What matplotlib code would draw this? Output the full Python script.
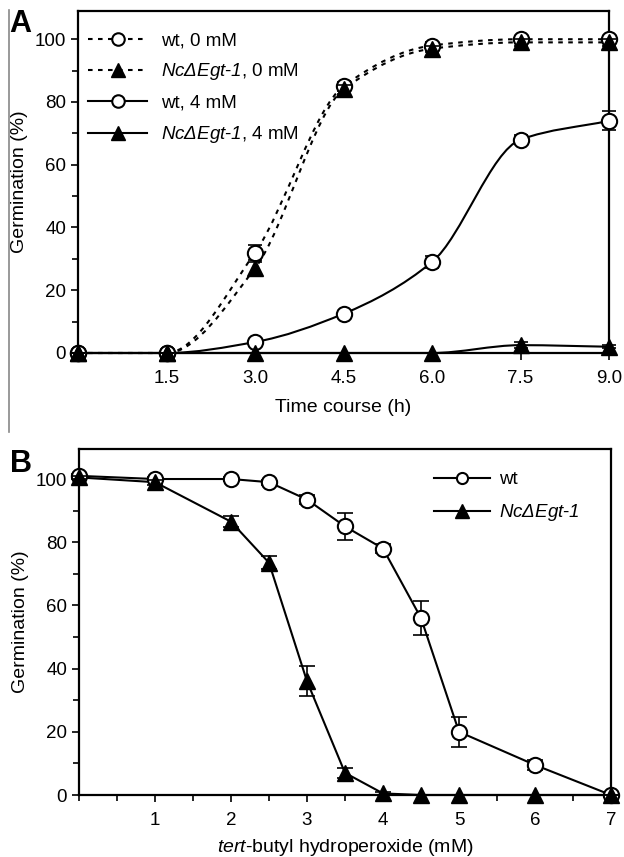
import numpy as np
import matplotlib
matplotlib.use("Agg")
import matplotlib.pyplot as plt
from matplotlib.path import Path
from matplotlib.patches import PathPatch
from matplotlib.lines import Line2D
from matplotlib.ticker import MultipleLocator, FixedLocator

plt.rcParams['font.family'] = ['Liberation Sans', 'DejaVu Sans']
plt.rcParams['mathtext.fontset'] = 'custom'
plt.rcParams['mathtext.rm'] = 'Liberation Sans'
plt.rcParams['mathtext.it'] = 'Liberation Sans:italic'
plt.rcParams['mathtext.sf'] = 'Liberation Sans:italic'

# ---------------- Data: panel A ----------------
time_h = [0, 1.5, 3.0, 4.5, 6.0, 7.5, 9.0]
wt_0mM = [0, 0, 32, 85, 98, 100, 100]
wt_0mM_err = [0, 0, 2.5, 1.5, 1.0, 1.0, 1.0]
nc_0mM = [0, 0, 27, 84, 97, 99, 99]
nc_0mM_err = [0, 0, 2.0, 1.5, 1.0, 1.0, 1.0]
wt_4mM = [0, 0, 3.5, 12.5, 29, 68, 74]
wt_4mM_err = [0, 0, 0.5, 0.5, 2.0, 1.5, 3.0]
nc_4mM = [0, 0, 0, 0, 0, 2.5, 2]
nc_4mM_err = [0, 0, 0, 0, 0, 1.0, 0.5]
time_ticks = [1.5, 3.0, 4.5, 6.0, 7.5, 9.0]
time_ticklabels = ["1.5", "3.0", "4.5", "6.0", "7.5", "9.0"]
labels_A = ["wt, 0 mM", r"$\mathsf{NcΔEgt}$-$\mathsf{1}$, 0 mM",
            "wt, 4 mM", r"$\mathsf{NcΔEgt}$-$\mathsf{1}$, 4 mM"]

# ---------------- Data: panel B ----------------
tbh_mM = [0, 1, 2, 2.5, 3, 3.5, 4, 4.5, 5, 6, 7]
wt_B = [101, 100, 100, 99, 93.5, 85, 78, 56, 20, 9.5, 0]
wt_B_err = [0.5, 0.5, 0.5, 0.8, 1.5, 4.3, 1.5, 5.5, 4.8, 1.5, 0.5]
nc_B = [100.5, 99, 86.5, 73.5, 36, 7, 0.5, 0, 0, 0, 0]
nc_B_err = [0.5, 0.8, 1.8, 2.0, 4.8, 1.5, 0.5, 0, 0, 0, 0]
dose_ticks = [1, 2, 3, 4, 5, 6, 7]
labels_B = ["wt", r"$\mathsf{NcΔEgt}$-$\mathsf{1}$"]

W, H = 624, 857
fig = plt.figure(figsize=(W / 100, H / 100), dpi=100)

LW = 1.5
MS = 11
FS = 13.5


def smooth_patch(x, y, **kw):
    """Monotone cubic curve through the data, drawn as matplotlib Bezier path."""
    x = np.asarray(x, float)
    y = np.asarray(y, float)
    n = len(x)
    h = np.diff(x)
    d = np.diff(y) / h
    m = np.zeros(n)
    m[0], m[-1] = d[0], d[-1]
    for k in range(1, n - 1):
        if d[k - 1] * d[k] <= 0:
            m[k] = 0
        else:
            w1 = 2 * h[k] + h[k - 1]
            w2 = h[k] + 2 * h[k - 1]
            m[k] = (w1 + w2) / (w1 / d[k - 1] + w2 / d[k])
    verts = [(x[0], y[0])]
    codes = [Path.MOVETO]
    for i in range(n - 1):
        verts += [(x[i] + h[i] / 3, y[i] + m[i] * h[i] / 3),
                  (x[i + 1] - h[i] / 3, y[i + 1] - m[i + 1] * h[i] / 3),
                  (x[i + 1], y[i + 1])]
        codes += [Path.CURVE4] * 3
    return PathPatch(Path(verts, codes), fill=False, **kw)


def style_axes(ax):
    for s in ax.spines.values():
        s.set_linewidth(1.6)
    ax.tick_params(which='both', direction='out', width=1.2, labelsize=FS)
    ax.tick_params(which='major', length=5)
    ax.tick_params(which='minor', length=4)
    ax.tick_params(axis='x', which='major', pad=7)


DASH = (0, (2.2, 2.6))

# ---------------- Panel A ----------------
axA = fig.add_axes([78 / W, 1 - 353 / H, (609 - 78) / W, (353 - 11) / H])
style_axes(axA)
axA.set_xlim(0, 9)
axA.set_ylim(0, 109)

series_A = [
    (wt_0mM, wt_0mM_err, DASH, 'o'),
    (nc_0mM, nc_0mM_err, DASH, '^'),
    (wt_4mM, wt_4mM_err, '-', 'o'),
    (nc_4mM, nc_4mM_err, '-', '^'),
]
for yv, ev, ls, mk in series_A:
    axA.add_patch(smooth_patch(time_h, yv, lw=LW, linestyle=ls, edgecolor='black',
                               zorder=2, clip_on=False))
for yv, ev, ls, mk in series_A:
    if mk == 'o':
        axA.errorbar(time_h, yv, yerr=ev, fmt='none', ecolor='black', elinewidth=1.2,
                     capsize=5, capthick=1.2, zorder=3, clip_on=False)
        axA.plot(time_h, yv, ls='none', marker='o', ms=MS, mfc='white', mec='black',
                 mew=LW, zorder=4, clip_on=False)
for yv, ev, ls, mk in series_A:
    if mk == '^':
        axA.errorbar(time_h, yv, yerr=ev, fmt='none', ecolor='black', elinewidth=1.2,
                     capsize=5, capthick=1.2, zorder=5, clip_on=False)
        axA.plot(time_h, yv, ls='none', marker='^', ms=MS, mfc='black', mec='black',
                 mew=1, zorder=6, clip_on=False)

axA.xaxis.set_major_locator(FixedLocator(time_ticks))
axA.set_xticklabels(time_ticklabels)
axA.yaxis.set_major_locator(MultipleLocator(20))
axA.yaxis.set_minor_locator(MultipleLocator(10))
axA.set_xlabel("Time course (h)", fontsize=FS + 0.5, labelpad=9)
axA.set_ylabel("Germination (%)", fontsize=FS + 0.5, labelpad=5)

hA = []
for yv, ev, ls, mk in series_A:
    if mk == 'o':
        hA.append(Line2D([], [], color='black', lw=LW, ls=ls, marker='o', ms=9,
                         mfc='white', mec='black', mew=LW))
    else:
        hA.append(Line2D([], [], color='black', lw=LW, ls=ls, marker='^', ms=10,
                         mfc='black', mec='black'))
axA.legend(hA, labels_A, loc='upper left', bbox_to_anchor=(-0.005, 0.977), frameon=False,
           fontsize=FS, handlelength=3.1, handletextpad=0.75, labelspacing=0.66,
           borderaxespad=0.3)

# ---------------- Panel B ----------------
axB = fig.add_axes([79 / W, 1 - 795 / H, (611 - 79) / W, (795 - 449) / H])
style_axes(axB)
axB.set_xlim(0, 7)
axB.set_ylim(0, 109.5)
axB.plot(tbh_mM, wt_B, color='black', lw=LW, zorder=2, clip_on=False)
axB.plot(tbh_mM, nc_B, color='black', lw=LW, zorder=2, clip_on=False)
axB.errorbar(tbh_mM, wt_B, yerr=wt_B_err, fmt='none', ecolor='black', elinewidth=1.2,
             capsize=6, capthick=1.2, zorder=3, clip_on=False)
axB.plot(tbh_mM, wt_B, ls='none', marker='o', ms=MS, mfc='white', mec='black',
         mew=LW, zorder=4, clip_on=False)
axB.errorbar(tbh_mM, nc_B, yerr=nc_B_err, fmt='none', ecolor='black', elinewidth=1.2,
             capsize=6, capthick=1.2, zorder=5, clip_on=False)
axB.plot(tbh_mM, nc_B, ls='none', marker='^', ms=MS + 1, mfc='black', mec='black',
         mew=1, zorder=6, clip_on=False)
axB.xaxis.set_major_locator(FixedLocator(dose_ticks))
axB.xaxis.set_minor_locator(MultipleLocator(0.5))
axB.yaxis.set_major_locator(MultipleLocator(20))
axB.yaxis.set_minor_locator(MultipleLocator(10))
axB.set_xlabel(r"$\mathit{tert}$-butyl hydroperoxide (mM)", fontsize=FS + 0.5, labelpad=6)
axB.set_ylabel("Germination (%)", fontsize=FS + 0.5, labelpad=5)

hB = [Line2D([], [], color='black', lw=LW, marker='o', ms=8, mfc='white', mec='black', mew=LW),
      Line2D([], [], color='black', lw=LW, marker='^', ms=10, mfc='black', mec='black')]
axB.legend(hB, labels_B, loc='upper left', bbox_to_anchor=(0.635, 0.985), frameon=False,
           fontsize=FS, handlelength=3.0, handletextpad=0.5, labelspacing=0.75)

# panel letters and left border line
fig.text(9 / W, 1 - 24 / H, "A", fontsize=22, fontweight='bold', va='center', ha='left')
fig.text(10 / W, 1 - 464 / H, "B", fontsize=22, fontweight='bold', va='center', ha='left')
fig.add_artist(Line2D([8.5 / W, 8.5 / W], [1 - 10 / H, 1 - 432 / H], color='#888888', lw=1.2))

fig.savefig("out.png", dpi=100)
